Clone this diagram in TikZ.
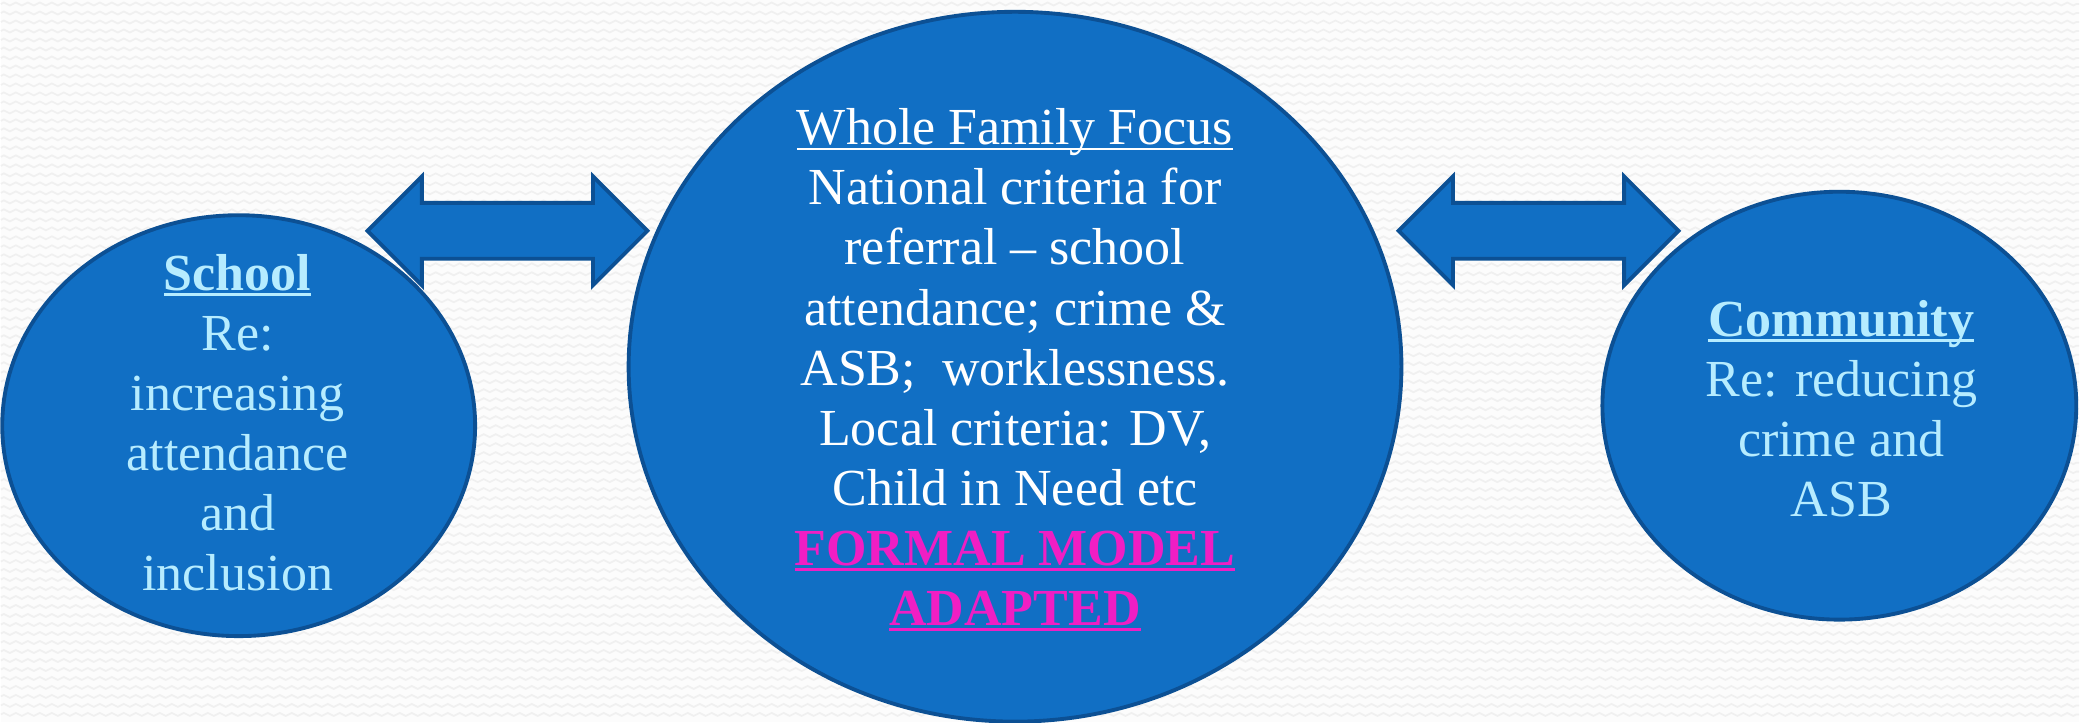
\documentclass[tikz,border=0pt]{standalone}
\usepackage{fontspec}
\setmainfont{Liberation Serif}
\usepackage{xcolor}
\usepackage{tikz}
\usetikzlibrary{shapes, decorations.pathmorphing}

\definecolor{ovalfill}{RGB}{17,111,196}
\definecolor{ovaledge}{RGB}{12,80,148}
\definecolor{paletext}{RGB}{182,236,255}
\definecolor{pinktext}{RGB}{240,30,196}
\definecolor{bgpaper}{RGB}{252,252,252}
\definecolor{bgwave}{RGB}{240,240,240}

% underline at a fixed depth below the baseline
\newcommand{\undl}[2][0.6pt]{\setbox0\hbox{#2}\rlap{\rule[-1.5pt]{\wd0}{#1}}\box0}

\begin{document}
\begin{tikzpicture}[x=0.01cm, y=-0.01cm,
    oval/.style={draw=ovaledge, fill=ovalfill, ellipse, line width=1.1pt},
    dblarrow/.style={draw=ovaledge, fill=ovalfill, double arrow, line width=1.1pt,
        minimum height=2.8cm, inner xsep=0pt, inner ysep=0.26cm,
        double arrow head extend=0.265cm, double arrow tip angle=90},
    txt/.style={align=center, font=\fontsize{14.8}{17.1}\selectfont}]
  \fill[bgpaper] (0,0) rectangle (2080,723);
  \foreach \r in {4,13,...,720}
    \draw[bgwave, line width=0.5pt, decorate,
          decoration={zigzag, segment length=0.12cm, amplitude=0.015cm}] (0,\r) -- (2080,\r);
  \useasboundingbox (0,0) rectangle (2080,723);

  \node[oval, minimum width=4.73cm, minimum height=4.21cm] (school) at (238,426) {};
  \node[oval, minimum width=7.73cm, minimum height=7.10cm] (family) at (1015,367) {};
  \node[oval, minimum width=4.74cm, minimum height=4.28cm] (community) at (1840,406) {};

  \node[dblarrow] (linkL) at (507,231) {};
  \node[dblarrow] (linkR) at (1539,231) {};

  \node[txt, text=paletext] (schooltext) at (237,423)
      {\undl{\textbf{School}}\\Re:\\increasing\\attendance\\and\\inclusion};
  \node[txt, text=white] (familytext) at (1015,370)
      {\undl{Whole Family Focus}\\National criteria for\\referral -- school\\attendance; crime \&\\ASB;\ \ worklessness.\\Local criteria: DV,\\Child in Need etc\\
       \textcolor{pinktext}{\undl[0.8pt]{\textbf{FORMAL MODEL}}}\\\textcolor{pinktext}{\undl[0.8pt]{\textbf{ADAPTED}}}};
  \node[txt, text=paletext] (communitytext) at (1842,409)
      {\undl{\textbf{Community}}\\Re: reducing\\crime and\\ASB};
\end{tikzpicture}
\end{document}
